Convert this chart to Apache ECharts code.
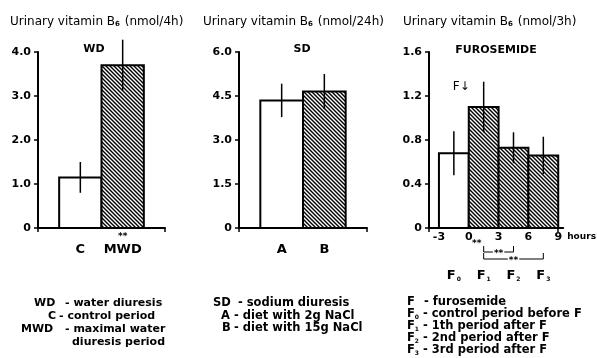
<!DOCTYPE html>
<html><head><meta charset="utf-8">
<script src="https://cdn.jsdelivr.net/npm/echarts@6/dist/echarts.min.js"></script>
<style>html,body{margin:0;padding:0;background:#fff}#c{width:597px;height:358px}</style>
</head><body><div id="c"></div>
<script>
// ---- data ----
const wdCategories = ['C', 'MWD'];
const wdValues = [1.15, 3.7];
const wdErrors = [0.35, 0.58];
const wdHatched = [0, 1];
const wdTicks = [0, 1, 2, 3, 4];

const sdCategories = ['A', 'B'];
const sdValues = [4.35, 4.65];
const sdErrors = [0.57, 0.6];
const sdHatched = [0, 1];
const sdTicks = [0, 1.5, 3, 4.5, 6];

const fCategories = ['0', '1', '2', '3'];
const fStartHours = [-3, 0, 3, 6];
const fPeriodLength = 3;
const fValues = [0.68, 1.1, 0.73, 0.66];
const fErrors = [0.2, 0.23, 0.14, 0.17];
const fHatched = [0, 1, 1, 1];
const fHourTicks = [-3, 0, 3, 6, 9];
const fTicks = [0, 0.4, 0.8, 1.2, 1.6];
const fSignificance = [[1.5, 4.5], [1.5, 7.5]];

// ---- styles ----
const FONT = 'DejaVu Sans';
function makeHatch() {
  const c = document.createElement('canvas');
  c.width = 4; c.height = 4;
  const g = c.getContext('2d');
  g.fillStyle = '#fff'; g.fillRect(0, 0, 4, 4);
  g.strokeStyle = '#000'; g.lineWidth = 1.4;
  g.beginPath();
  g.moveTo(-1, -1); g.lineTo(5, 5);
  g.moveTo(-1, 3); g.lineTo(1, 5);
  g.moveTo(3, -1); g.lineTo(5, 1);
  g.stroke();
  return c;
}
const hatch = { image: makeHatch(), repeat: 'repeat' };

function barRender(params, api) {
  const x = api.value(0), w = api.value(1), v = api.value(2), e = api.value(3), h = api.value(4);
  const p0 = api.coord([x, 0]);
  const p1 = api.coord([x + w, v]);
  const cx = api.coord([x + w / 2, 0])[0];
  const top = api.coord([x, v + e])[1];
  const bot = api.coord([x, v - e])[1];
  return {
    type: 'group',
    children: [
      { type: 'rect', shape: { x: p0[0], y: p1[1], width: p1[0] - p0[0], height: p0[1] - p1[1] },
        style: { fill: h ? hatch : '#fff', stroke: '#000', lineWidth: 2 } },
      { type: 'line', shape: { x1: cx, y1: top, x2: cx, y2: bot }, style: { stroke: '#000', lineWidth: 1.5 } }
    ]
  };
}

function catData(vals, errs, hatched) {
  return vals.map((v, i) => [i + 0.5, 1, v, errs[i], hatched[i]]);
}
const fData = fValues.map((v, i) => [fStartHours[i], fPeriodLength, v, fErrors[i], fHatched[i]]);

const grids = [
  { left: 38, top: 52, width: 127, height: 176 },
  { left: 239, top: 52, width: 128, height: 176 },
  { left: 429, top: 52, width: 137, height: 176 }
];

const axisLine = { show: true, onZero: false, lineStyle: { color: '#000', width: 2 } };
function yAxis(gi, max, interval) {
  return {
    type: 'value', gridIndex: gi, min: 0, max: max, interval: interval,
    axisLine: axisLine,
    axisTick: { show: true, length: 4, inside: false, lineStyle: { color: '#000', width: 1.5 } },
    splitLine: { show: false },
    axisLabel: { margin: 7, color: '#000', fontFamily: FONT, fontWeight: 'bold', fontSize: 11,
      formatter: v => v === 0 ? '0' : v.toFixed(1) }
  };
}
function catXAxis(gi, cats) {
  return {
    type: 'value', gridIndex: gi, min: 0, max: 3, interval: 3,
    axisLine: axisLine,
    axisTick: { show: true, length: 4, lineStyle: { color: '#000', width: 1.5 } },
    splitLine: { show: false },
    axisLabel: { show: true, customValues: cats.map((c, i) => i + 1), margin: 15,
      color: '#000', fontFamily: FONT, fontWeight: 'bold', fontSize: 13,
      formatter: v => cats[Math.round(v) - 1] }
  };
}

const option = {
  animation: false,
  backgroundColor: '#fff',
  grid: grids,
  xAxis: [
    catXAxis(0, wdCategories),
    catXAxis(1, sdCategories),
    {
      type: 'value', gridIndex: 2, min: -4, max: 9.5,
      axisLine: axisLine,
      axisTick: { show: true, length: 4, customValues: [-4, 9], lineStyle: { color: '#000', width: 1.5 } },
      splitLine: { show: false },
      axisLabel: { customValues: fHourTicks, margin: 4, color: '#000', fontFamily: FONT, fontWeight: 'bold', fontSize: 11,
        formatter: v => String(v), showMinLabel: true, showMaxLabel: true },
      name: 'hours', nameLocation: 'end', nameGap: 4,
      nameTextStyle: { color: '#000', fontFamily: FONT, fontWeight: 'bold', fontSize: 9, verticalAlign: 'top', padding: [4, 0, 0, 0] }
    },
    {
      type: 'value', gridIndex: 2, min: -4, max: 9.5, position: 'bottom',
      axisLine: { show: false, onZero: false }, axisTick: { show: false }, splitLine: { show: false },
      axisLabel: { customValues: fStartHours.map(h => h + fPeriodLength / 2), margin: 41,
        formatter: v => '{b|F}{s|' + fCategories[fStartHours.indexOf(v - fPeriodLength / 2)] + '}',
        rich: {
          b: { color: '#000', fontFamily: FONT, fontWeight: 'bold', fontSize: 13 },
          s: { color: '#000', fontFamily: FONT, fontWeight: 'bold', fontSize: 6, verticalAlign: 'bottom', padding: [6, 0, 0, 1] }
        } }
    }
  ],
  yAxis: [yAxis(0, 4, 1), yAxis(1, 6, 1.5), yAxis(2, 1.6, 0.4)],
  series: [
    { type: 'custom', xAxisIndex: 0, yAxisIndex: 0, renderItem: barRender, data: catData(wdValues, wdErrors, wdHatched), z: 1 },
    { type: 'custom', xAxisIndex: 1, yAxisIndex: 1, renderItem: barRender, data: catData(sdValues, sdErrors, sdHatched), z: 1 },
    { type: 'custom', xAxisIndex: 2, yAxisIndex: 2, renderItem: barRender, data: fData, z: 1 },
    { type: 'custom', xAxisIndex: 2, yAxisIndex: 2, clip: false, data: fSignificance,
      renderItem: function (params, api) {
        const a = api.coord([api.value(0), 0]);
        const b = api.coord([api.value(1), 0]);
        const off = params.dataIndex === 0 ? 24 : 31;
        const y = a[1] + off;
        const mid = (a[0] + b[0]) / 2;
        return { type: 'group', children: [
          { type: 'polyline', shape: { points: [[a[0], y - 6], [a[0], y], [b[0], y], [b[0], y - 6]] },
            style: { stroke: '#000', lineWidth: 1, fill: null } },
          { type: 'text', x: mid, y: y + 2, style: { text: '**', align: 'center', verticalAlign: 'middle',
            fontFamily: FONT, fontWeight: 'bold', fontSize: 9, fill: '#000', backgroundColor: '#fff', padding: [0, 1] } }
        ] };
      } }
  ]
};

const titleRich = {
  n: { fontFamily: FONT, fontSize: 12, color: '#000' },
  s: { fontFamily: FONT, fontSize: 7, fontWeight: 'bold', color: '#000', verticalAlign: 'bottom', padding: [5, 1, 0, 0] }
};
function gtext(x, y, text, opts) {
  return Object.assign({ type: 'text', x: x, y: y, silent: true,
    style: Object.assign({ text: text, fill: '#000', fontFamily: FONT, fontSize: 11, fontWeight: 'bold', align: 'left', verticalAlign: 'middle' }, opts || {}) });
}
const subRich = {
  s: { fontFamily: FONT, fontSize: 6, fontWeight: 'bold', color: '#000', verticalAlign: 'bottom', padding: [4, 0, 0, 0] }
};
const R = { fontSize: 11.5 };
const graphics = [
  gtext(10, 22, '{n|Urinary vitamin B}{s|6}{n| (nmol/4h)}', { rich: titleRich, fontWeight: 'normal' }),
  gtext(203, 22, '{n|Urinary vitamin B}{s|6}{n| (nmol/24h)}', { rich: titleRich, fontWeight: 'normal' }),
  gtext(403, 22, '{n|Urinary vitamin B}{s|6}{n| (nmol/3h)}', { rich: titleRich, fontWeight: 'normal' }),
  gtext(94, 49, 'WD', { align: 'center', fontSize: 11 }),
  gtext(302, 49, 'SD', { align: 'center', fontSize: 11 }),
  gtext(496, 50, 'FUROSEMIDE', { align: 'center', fontSize: 11 }),
  // legend left
  gtext(34, 303, 'WD'), gtext(65, 303, '- water diuresis'),
  gtext(48, 316, 'C'), gtext(59, 316, '- control period'),
  gtext(21, 329, 'MWD'), gtext(65, 329, '- maximal water'),
  gtext(72, 342, 'diuresis period'),
  // legend middle
  gtext(213, 303, 'SD', R), gtext(238, 303, '- sodium diuresis', R),
  gtext(221, 316, 'A', R), gtext(234, 316, '- diet with 2g NaCl', R),
  gtext(222, 328, 'B', R), gtext(234, 328, '- diet with 15g NaCl', R),
  // legend right
  gtext(407, 302, 'F', R), gtext(424, 302, '- furosemide', R),
  gtext(407, 314, 'F{s|0}', Object.assign({ rich: subRich }, R)), gtext(423, 314, '- control period before F', R),
  gtext(407, 326, 'F{s|1}', Object.assign({ rich: subRich }, R)), gtext(423, 326, '- 1th period after F', R),
  gtext(407, 338, 'F{s|2}', Object.assign({ rich: subRich }, R)), gtext(423, 338, '- 2nd period after F', R),
  gtext(407, 350, 'F{s|3}', Object.assign({ rich: subRich }, R)), gtext(423, 350, '- 3rd period after F', R)
];
option.graphic = graphics;

const chart = echarts.init(document.getElementById('c'), null, { renderer: 'canvas' });
chart.setOption(option);

// data-anchored annotations
const pStar1 = chart.convertToPixel({ gridIndex: 0 }, [2, 0]);
const pF = chart.convertToPixel({ gridIndex: 2 }, [0, 1.28]);
const pStar3 = chart.convertToPixel({ gridIndex: 2 }, [0.8, 0]);
chart.setOption({ graphic: graphics.concat([
  gtext(pStar1[0], pStar1[1] + 9, '**', { align: 'center', fontSize: 9 }),
  gtext(pF[0] + 1, pF[1], 'F\u2193', { align: 'right', fontSize: 12, fontWeight: 'normal' }),
  gtext(pStar3[0], pStar3[1] + 16, '**', { align: 'center', fontSize: 9 })
]) });
</script>
</body></html>
